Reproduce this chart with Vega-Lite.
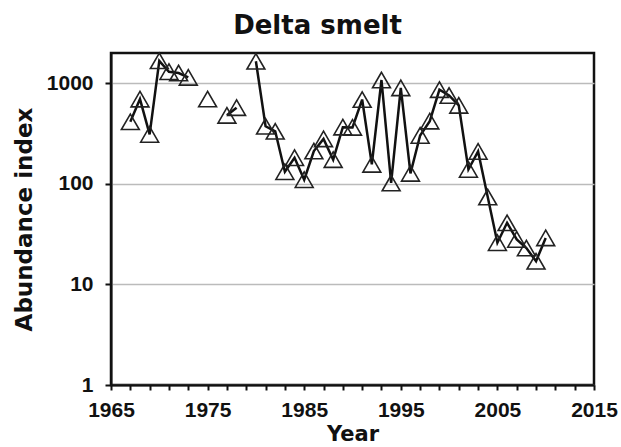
{
  "$schema": "https://vega.github.io/schema/vega-lite/v6.json",
  "autosize": "none",
  "width": 483,
  "height": 332,
  "padding": {"left": 111, "top": 53, "right": 27, "bottom": 62},
  "background": "white",
  "title": {
    "text": "Delta smelt",
    "font": "DejaVu Sans",
    "fontSize": 26,
    "fontWeight": "bold",
    "color": "#111",
    "anchor": "middle",
    "frame": "group",
    "dx": -35,
    "offset": 11
  },
  "config": {
    "view": {"stroke": "#111", "strokeWidth": 2.5}
  },
  "data": {
    "values": [
      {"year": 1967, "index": 414, "seg": "a"},
      {"year": 1968, "index": 696, "seg": "a"},
      {"year": 1969, "index": 310, "seg": "a"},
      {"year": 1970, "index": 1673, "seg": "a"},
      {"year": 1971, "index": 1303, "seg": "a"},
      {"year": 1972, "index": 1265, "seg": "a"},
      {"year": 1973, "index": 1145, "seg": "a"},
      {"year": 1975, "index": 697, "seg": "b"},
      {"year": 1977, "index": 480, "seg": "c"},
      {"year": 1978, "index": 572, "seg": "c"},
      {"year": 1980, "index": 1654, "seg": "d"},
      {"year": 1981, "index": 374, "seg": "d"},
      {"year": 1982, "index": 333, "seg": "d"},
      {"year": 1983, "index": 132, "seg": "d"},
      {"year": 1984, "index": 182, "seg": "d"},
      {"year": 1985, "index": 110, "seg": "d"},
      {"year": 1986, "index": 212, "seg": "d"},
      {"year": 1987, "index": 280, "seg": "d"},
      {"year": 1988, "index": 174, "seg": "d"},
      {"year": 1989, "index": 366, "seg": "d"},
      {"year": 1990, "index": 364, "seg": "d"},
      {"year": 1991, "index": 689, "seg": "d"},
      {"year": 1992, "index": 156, "seg": "d"},
      {"year": 1993, "index": 1078, "seg": "d"},
      {"year": 1994, "index": 102, "seg": "d"},
      {"year": 1995, "index": 899, "seg": "d"},
      {"year": 1996, "index": 127, "seg": "d"},
      {"year": 1997, "index": 303, "seg": "d"},
      {"year": 1998, "index": 420, "seg": "d"},
      {"year": 1999, "index": 864, "seg": "d"},
      {"year": 2000, "index": 756, "seg": "d"},
      {"year": 2001, "index": 603, "seg": "d"},
      {"year": 2002, "index": 139, "seg": "d"},
      {"year": 2003, "index": 210, "seg": "d"},
      {"year": 2004, "index": 74, "seg": "d"},
      {"year": 2005, "index": 26, "seg": "d"},
      {"year": 2006, "index": 41, "seg": "d"},
      {"year": 2007, "index": 28, "seg": "d"},
      {"year": 2008, "index": 23, "seg": "d"},
      {"year": 2009, "index": 17, "seg": "d"},
      {"year": 2010, "index": 29, "seg": "d"}
    ]
  },
  "encoding": {
    "x": {
      "field": "year",
      "type": "quantitative",
      "scale": {"domain": [1965, 2015], "nice": false, "zero": false},
      "axis": {
        "title": "Year",
        "titleFont": "DejaVu Sans",
        "titleFontSize": 21,
        "titleFontWeight": "bold",
        "titleColor": "#111",
        "titlePadding": 3,
        "values": [1965,1967,1969,1971,1973,1975,1977,1979,1981,1983,1985,1987,1989,1991,1993,1995,1997,1999,2001,2003,2005,2007,2009,2011,2013,2015],
        "format": "d",
        "labelExpr": "(datum.value - 1965) % 10 == 0 ? datum.label : ''",
        "labelFont": "Liberation Sans",
        "labelFontSize": 21,
        "labelFontWeight": "bold",
        "labelColor": "#111",
        "labelPadding": 9,
        "labelFlush": false,
        "labelOverlap": false,
        "tickSize": 5,
        "tickWidth": 2,
        "tickColor": "#111",
        "domainColor": "#111",
        "domainWidth": 2,
        "grid": false
      }
    },
    "y": {
      "field": "index",
      "type": "quantitative",
      "scale": {"type": "log", "domain": [1, 2000], "nice": false},
      "axis": {
        "title": "Abundance index",
        "titleFont": "DejaVu Sans",
        "titleFontSize": 23,
        "titleFontWeight": "bold",
        "titleColor": "#111",
        "titlePadding": 10,
        "values": [1, 10, 100, 1000],
        "format": "d",
        "labelFont": "Liberation Sans",
        "labelFontSize": 21,
        "labelFontWeight": "bold",
        "labelColor": "#111",
        "labelPadding": 12,
        "labelFlush": false,
        "tickSize": 6,
        "tickWidth": 2,
        "tickColor": "#111",
        "domainColor": "#111",
        "domainWidth": 2,
        "grid": true,
        "gridColor": "#bbbbbb",
        "gridWidth": 1.5
      }
    }
  },
  "layer": [
    {
      "mark": {"type": "line", "color": "#111", "strokeWidth": 2.5},
      "encoding": {"detail": {"field": "seg", "type": "nominal"}}
    },
    {
      "mark": {"type": "point", "shape": "triangle-up", "size": 320, "filled": false, "stroke": "#222", "strokeWidth": 1.6, "opacity": 1}
    }
  ]
}
